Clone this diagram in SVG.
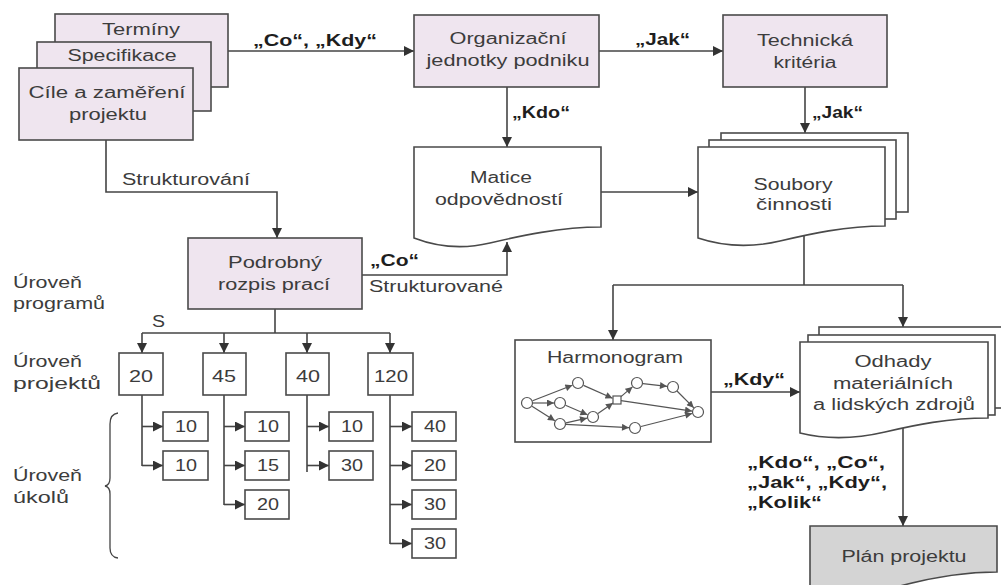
<svg xmlns="http://www.w3.org/2000/svg" width="1001" height="585" viewBox="0 0 1001 585">
<style>
.box{fill:#efe5ef;stroke:#4a4a4a;stroke-width:1.6}
.wbox{fill:#fff;stroke:#4a4a4a;stroke-width:1.6}
.gbox{fill:#d4d4d4;stroke:#4a4a4a;stroke-width:1.6}
.t{font-family:"Liberation Sans",Arial,sans-serif;font-size:16px;fill:#3c3c3c}
.m{text-anchor:middle}
.b{font-weight:bold;fill:#1e1e1e}
.c{stroke:#444;stroke-width:1.6;fill:none}
.n{stroke:#555;stroke-width:1.2;fill:none}
.nd{fill:#fff;stroke:#555;stroke-width:1.2}
</style>
<defs>
<marker id="ah" viewBox="0 0 10 10" refX="10" refY="5" markerWidth="11" markerHeight="10" markerUnits="userSpaceOnUse" orient="auto"><path d="M0,0 L10,5 L0,10 Z" fill="#333"/></marker>
<marker id="sa" viewBox="0 0 10 10" refX="10" refY="5" markerWidth="8" markerHeight="7" markerUnits="userSpaceOnUse" orient="auto"><path d="M0,0 L10,5 L0,10 Z" fill="#555"/></marker>
</defs>

<g id="connectors">
<path class="c" d="M228,51 H414" marker-end="url(#ah)"/>
<path class="c" d="M599,51 H723" marker-end="url(#ah)"/>
<path class="c" d="M507,87 V147" marker-end="url(#ah)"/>
<path class="c" d="M805,87 V133" marker-end="url(#ah)"/>
<path class="c" d="M601,192 H698" marker-end="url(#ah)"/>
<path class="c" d="M106,140 V192 H277 V238" marker-end="url(#ah)"/>
<path class="c" d="M362,275 H507 V242" marker-end="url(#ah)"/>
<path class="c" d="M804,236 V285"/>
<path class="c" d="M613,285 H903"/>
<path class="c" d="M613,285 V340" marker-end="url(#ah)"/>
<path class="c" d="M903,285 V327" marker-end="url(#ah)"/>
<path class="c" d="M711,392 H800" marker-end="url(#ah)"/>
<path class="c" d="M903,428 V526" marker-end="url(#ah)"/>
<path class="c" d="M275,309 V333"/>
<path class="c" d="M142,333 H390"/>
<path class="c" d="M142,333 V353" marker-end="url(#ah)"/>
<path class="c" d="M224,333 V353" marker-end="url(#ah)"/>
<path class="c" d="M307,333 V353" marker-end="url(#ah)"/>
<path class="c" d="M390,333 V353" marker-end="url(#ah)"/>
<path class="c" d="M142,395 V466"/>
<path class="c" d="M224,395 V505"/>
<path class="c" d="M307,395 V472"/>
<path class="c" d="M390,395 V544"/>
<path class="c" d="M142,426.5 H163" marker-end="url(#ah)"/>
<path class="c" d="M142,465.5 H163" marker-end="url(#ah)"/>
<path class="c" d="M224,426.5 H245" marker-end="url(#ah)"/>
<path class="c" d="M224,465.5 H245" marker-end="url(#ah)"/>
<path class="c" d="M224,504.5 H245" marker-end="url(#ah)"/>
<path class="c" d="M307,426.5 H329" marker-end="url(#ah)"/>
<path class="c" d="M307,465.5 H329" marker-end="url(#ah)"/>
<path class="c" d="M390,426.5 H412" marker-end="url(#ah)"/>
<path class="c" d="M390,465.5 H412" marker-end="url(#ah)"/>
<path class="c" d="M390,504.5 H412" marker-end="url(#ah)"/>
<path class="c" d="M390,543.5 H412" marker-end="url(#ah)"/>
</g>

<g id="labels">
<text class="t b" x="253" y="46" textLength="124" lengthAdjust="spacingAndGlyphs">„Co“, „Kdy“</text>
<text class="t b" x="635" y="45" textLength="55" lengthAdjust="spacingAndGlyphs">„Jak“</text>
<text class="t b" x="512" y="118" textLength="58" lengthAdjust="spacingAndGlyphs">„Kdo“</text>
<text class="t b" x="812" y="118" textLength="51" lengthAdjust="spacingAndGlyphs">„Jak“</text>
<text class="t" x="122" y="185" textLength="128" lengthAdjust="spacingAndGlyphs">Strukturování</text>
<text class="t b" x="370" y="266" textLength="49" lengthAdjust="spacingAndGlyphs">„Co“</text>
<text class="t" x="369" y="292" textLength="134" lengthAdjust="spacingAndGlyphs">Strukturované</text>
<text class="t" x="152" y="327" textLength="13" lengthAdjust="spacingAndGlyphs">S</text>
<text class="t b" x="723" y="385" textLength="62" lengthAdjust="spacingAndGlyphs">„Kdy“</text>
<text class="t b" x="747" y="468" textLength="138" lengthAdjust="spacingAndGlyphs">„Kdo“, „Co“,</text>
<text class="t b" x="747" y="488" textLength="140" lengthAdjust="spacingAndGlyphs">„Jak“, „Kdy“,</text>
<text class="t b" x="747" y="508" textLength="75" lengthAdjust="spacingAndGlyphs">„Kolik“</text>
<text class="t" x="13" y="288" textLength="69" lengthAdjust="spacingAndGlyphs">Úroveň</text>
<text class="t" x="13" y="309" textLength="92" lengthAdjust="spacingAndGlyphs">programů</text>
<text class="t" x="13" y="367" textLength="69" lengthAdjust="spacingAndGlyphs">Úroveň</text>
<text class="t" x="13" y="389" textLength="88" lengthAdjust="spacingAndGlyphs">projektů</text>
<text class="t" x="13" y="481" textLength="69" lengthAdjust="spacingAndGlyphs">Úroveň</text>
<text class="t" x="13" y="503" textLength="56" lengthAdjust="spacingAndGlyphs">úkolů</text>
<path class="c" d="M118,413 Q110,414 110,424 V478 Q110,485 105,486 Q110,487 110,494 V548 Q110,557 118,558" style="stroke-width:1.3"/>
</g>

<g id="terminy">
<rect class="box" x="55" y="14" width="173" height="73"/>
<text class="t m" x="141" y="35" textLength="78" lengthAdjust="spacingAndGlyphs">Termíny</text>
</g>
<g id="specifikace">
<rect class="box" x="37" y="42" width="174" height="69"/>
<text class="t m" x="122" y="61" textLength="109" lengthAdjust="spacingAndGlyphs">Specifikace</text>
</g>
<g id="cile">
<rect class="box" x="19" y="68" width="174" height="72"/>
<text class="t m" x="107" y="98" textLength="157" lengthAdjust="spacingAndGlyphs">Cíle a zaměření</text>
<text class="t m" x="108" y="120" textLength="78" lengthAdjust="spacingAndGlyphs">projektu</text>
</g>

<g id="organizacni">
<rect class="box" x="414" y="15" width="185" height="72"/>
<text class="t m" x="508" y="44" textLength="117" lengthAdjust="spacingAndGlyphs">Organizační</text>
<text class="t m" x="508" y="66" textLength="163" lengthAdjust="spacingAndGlyphs">jednotky podniku</text>
</g>

<g id="technicka">
<rect class="box" x="723" y="15" width="164" height="72"/>
<text class="t m" x="805" y="46" textLength="96" lengthAdjust="spacingAndGlyphs">Technická</text>
<text class="t m" x="805" y="68" textLength="63" lengthAdjust="spacingAndGlyphs">kritéria</text>
</g>

<g id="matice">
<path class="wbox" d="M414,147 H601 V227 C560,227 520,236 490,243 C465,249 440,248 414,238 Z"/>
<text class="t m" x="501" y="183" textLength="62" lengthAdjust="spacingAndGlyphs">Matice</text>
<text class="t m" x="499" y="205" textLength="128" lengthAdjust="spacingAndGlyphs">odpovědností</text>
</g>

<g id="soubory">
<rect class="wbox" x="721" y="133" width="187" height="79"/>
<rect class="wbox" x="709" y="140" width="187" height="79"/>
<path class="wbox" d="M698,147 H885 V226 C845,226 810,234 780,241 C750,248 725,247 698,238 Z"/>
<text class="t m" x="793" y="190" textLength="79" lengthAdjust="spacingAndGlyphs">Soubory</text>
<text class="t m" x="794" y="210" textLength="76" lengthAdjust="spacingAndGlyphs">činnosti</text>
</g>

<g id="podrobny">
<rect class="box" x="188" y="238" width="174" height="71"/>
<text class="t m" x="275" y="268" textLength="94" lengthAdjust="spacingAndGlyphs">Podrobný</text>
<text class="t m" x="274" y="290" textLength="112" lengthAdjust="spacingAndGlyphs">rozpis prací</text>
</g>

<g id="projekty">
<rect class="wbox" x="119" y="353" width="44" height="42"/>
<text class="t m" x="141" y="382" textLength="24" lengthAdjust="spacingAndGlyphs">20</text>
<rect class="wbox" x="203" y="353" width="43" height="42"/>
<text class="t m" x="224" y="382" textLength="24" lengthAdjust="spacingAndGlyphs">45</text>
<rect class="wbox" x="286" y="353" width="43" height="42"/>
<text class="t m" x="308" y="382" textLength="24" lengthAdjust="spacingAndGlyphs">40</text>
<rect class="wbox" x="368" y="353" width="45" height="42"/>
<text class="t m" x="391" y="382" textLength="34" lengthAdjust="spacingAndGlyphs">120</text>
</g>

<g id="ukoly">
<rect class="wbox" x="163" y="412" width="45" height="29"/><text class="t m" x="186" y="432" textLength="22" lengthAdjust="spacingAndGlyphs">10</text>
<rect class="wbox" x="163" y="451" width="45" height="29"/><text class="t m" x="186" y="471" textLength="22" lengthAdjust="spacingAndGlyphs">10</text>
<rect class="wbox" x="245" y="412" width="44" height="29"/><text class="t m" x="268" y="432" textLength="22" lengthAdjust="spacingAndGlyphs">10</text>
<rect class="wbox" x="245" y="451" width="44" height="29"/><text class="t m" x="268" y="471" textLength="22" lengthAdjust="spacingAndGlyphs">15</text>
<rect class="wbox" x="245" y="490" width="44" height="29"/><text class="t m" x="268" y="510" textLength="22" lengthAdjust="spacingAndGlyphs">20</text>
<rect class="wbox" x="329" y="412" width="44" height="29"/><text class="t m" x="352" y="432" textLength="22" lengthAdjust="spacingAndGlyphs">10</text>
<rect class="wbox" x="329" y="451" width="44" height="29"/><text class="t m" x="352" y="471" textLength="22" lengthAdjust="spacingAndGlyphs">30</text>
<rect class="wbox" x="412" y="412" width="44" height="29"/><text class="t m" x="435" y="432" textLength="22" lengthAdjust="spacingAndGlyphs">40</text>
<rect class="wbox" x="412" y="451" width="44" height="29"/><text class="t m" x="435" y="471" textLength="22" lengthAdjust="spacingAndGlyphs">20</text>
<rect class="wbox" x="412" y="490" width="44" height="29"/><text class="t m" x="435" y="510" textLength="22" lengthAdjust="spacingAndGlyphs">30</text>
<rect class="wbox" x="412" y="529" width="44" height="29"/><text class="t m" x="435" y="549" textLength="22" lengthAdjust="spacingAndGlyphs">30</text>
</g>

<g id="harmonogram">
<rect class="wbox" x="515" y="340" width="196" height="102"/>
<text class="t m" x="615" y="363" textLength="136" lengthAdjust="spacingAndGlyphs">Harmonogram</text>
<g>
<path class="n" d="M532.6,400.8 L572.4,385.2" marker-end="url(#sa)"/>
<path class="n" d="M533,403 L554,403" marker-end="url(#sa)"/>
<path class="n" d="M532,406.2 L554.9,420.8" marker-end="url(#sa)"/>
<path class="n" d="M583.5,385.4 L612.5,398.2" marker-end="url(#sa)"/>
<path class="n" d="M565.5,405.3 L587.5,414.7" marker-end="url(#sa)"/>
<path class="n" d="M598,413.5 L613,403" marker-end="url(#sa)"/>
<path class="n" d="M566,422.8 L587,418.2" marker-end="url(#sa)"/>
<path class="n" d="M566,424.3 L629,427.7" marker-end="url(#sa)"/>
<path class="n" d="M621,396.6 L632.4,386.9" marker-end="url(#sa)"/>
<path class="n" d="M643,383.7 L667,386.3" marker-end="url(#sa)"/>
<path class="n" d="M677,391 L693.8,407.8" marker-end="url(#sa)"/>
<path class="n" d="M621,400.6 L692,411.1" marker-end="url(#sa)"/>
<path class="n" d="M641,426.5 L692.2,413.5" marker-end="url(#sa)"/>
<circle class="nd" cx="527" cy="403" r="5.5"/>
<circle class="nd" cx="578" cy="383" r="5.5"/>
<circle class="nd" cx="560" cy="403" r="5.5"/>
<circle class="nd" cx="560" cy="424" r="5.5"/>
<circle class="nd" cx="593" cy="417" r="5.5"/>
<rect class="nd" x="613" y="396" width="8" height="8"/>
<circle class="nd" cx="637" cy="383" r="5.5"/>
<circle class="nd" cx="673" cy="387" r="5.5"/>
<circle class="nd" cx="698" cy="412" r="5.5"/>
<circle class="nd" cx="635" cy="428" r="5.5"/>
</g>
</g>

<g id="odhady">
<rect class="wbox" x="819" y="327" width="200" height="81"/>
<rect class="wbox" x="808" y="335" width="187" height="80"/>
<path class="wbox" d="M800,342 H988 V418 C948,418 915,425 885,432 C855,439 828,440 800,433 Z"/>
<text class="t m" x="893" y="367" textLength="77" lengthAdjust="spacingAndGlyphs">Odhady</text>
<text class="t m" x="893" y="389" textLength="120" lengthAdjust="spacingAndGlyphs">materiálních</text>
<text class="t m" x="894" y="410" textLength="162" lengthAdjust="spacingAndGlyphs">a lidských zdrojů</text>
</g>

<g id="plan">
<path class="gbox" d="M810,526 H997 V572 C960,572 930,578 900,586 L810,590 Z"/>
<text class="t m" x="904" y="562" textLength="125" lengthAdjust="spacingAndGlyphs">Plán projektu</text>
</g>
</svg>
